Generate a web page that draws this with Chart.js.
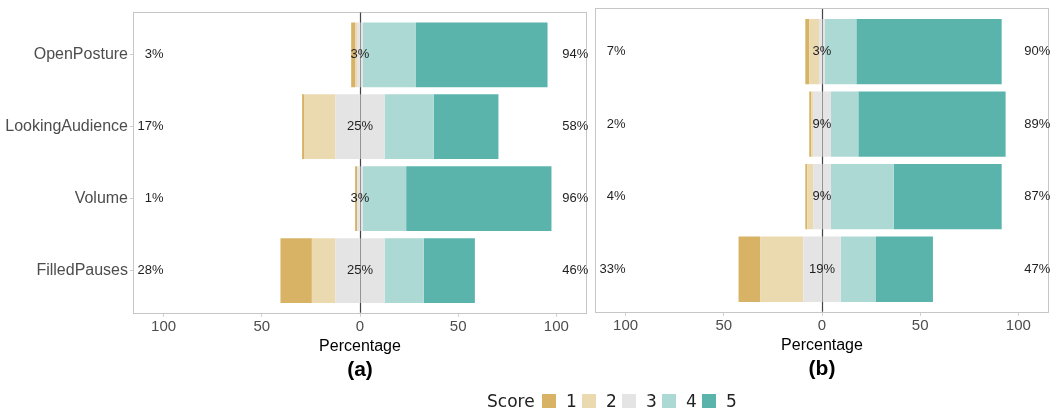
<!DOCTYPE html>
<html>
<head>
<meta charset="utf-8">
<script src="https://cdn.jsdelivr.net/npm/chart.js@4.4.0/dist/chart.umd.min.js"></script>
<style>
  html, body { margin: 0; padding: 0; background: #fff; }
  body { width: 1059px; height: 411px; position: relative; overflow: hidden; }
  canvas { position: absolute; top: 0; }
  #legend { position: absolute; left: 0; top: 0; width: 1059px; height: 411px;
            font-family: "DejaVu Sans", sans-serif; font-size: 17px; color: #222; }
  #legend .key { position: absolute; width: 14px; height: 14px; top: 394px; }
  #legend .lab { position: absolute; top: 391px; line-height: 20px; }
</style>
</head>
<body>
<canvas id="chartA" width="592" height="385" style="left:0px"></canvas>
<canvas id="chartB" width="467" height="384" style="left:592px"></canvas>
<div id="legend"></div>
<script>
// Likert items (rows, top to bottom)
const categories = ['OpenPosture', 'LookingAudience', 'Volume', 'FilledPauses'];
const scoreLabels = ['1', '2', '3', '4', '5'];
const xTickValues = [-100, -50, 0, 50, 100];

// Panel (a): percentage of answers per score
const a1 = [2, 1, 1, 16];
const a2 = [1, 16, 0, 12];
const a3 = [3, 25, 3, 25];
const a4 = [27, 25, 22, 20];
const a5 = [67, 33, 74, 26];

// Panel (b): percentage of answers per score
const b1 = [2, 1, 1, 11];
const b2 = [5, 1, 3, 22];
const b3 = [3, 9, 9, 19];
const b4 = [16, 14, 32, 18];
const b5 = [74, 75, 55, 29];

const scoreColors = ['#D8B365', '#EBD9AF', '#E4E4E4', '#ADD9D5', '#5AB4AC'];
const FONT = '"Liberation Sans", Arial, sans-serif';
Chart.defaults.font.family = FONT;

// Diverging stack: neutral split around zero, low scores to the left, high to the right
function buildDatasets(s1, s2, s3, s4, s5) {
  const pts = (arr, f) => arr.map((v, i) => ({ x: f(v), y: i }));
  return [
    { label: '3', data: pts(s3, v => -v / 2), backgroundColor: scoreColors[2] },
    { label: '2', data: pts(s2, v => -v), backgroundColor: scoreColors[1] },
    { label: '1', data: pts(s1, v => -v), backgroundColor: scoreColors[0] },
    { label: '3', data: pts(s3, v => v / 2), backgroundColor: scoreColors[2] },
    { label: '4', data: pts(s4, v => v), backgroundColor: scoreColors[3] },
    { label: '5', data: pts(s5, v => v), backgroundColor: scoreColors[4] }
  ].map(d => Object.assign(d, {
    stack: 's', barPercentage: 0.9, categoryPercentage: 1, borderWidth: 0
  }));
}

// Panel frame and zero reference line, drawn under the bars
const framePlugin = {
  id: 'frame',
  beforeDatasetsDraw(chart) {
    const { ctx, chartArea: ca, scales: { x } } = chart;
    ctx.save();
    ctx.strokeStyle = '#c6c6c6';
    ctx.lineWidth = 1;
    ctx.strokeRect(Math.round(ca.left) + 0.5, Math.round(ca.top) + 0.5,
                   Math.round(ca.right - ca.left) - 1, Math.round(ca.bottom - ca.top) - 1);
    const x0 = Math.round(x.getPixelForValue(0)) + 0.5;
    ctx.strokeStyle = '#444';
    ctx.lineWidth = 1.2;
    ctx.beginPath();
    ctx.moveTo(x0, ca.top + 1);
    ctx.lineTo(x0, ca.bottom - 1);
    ctx.stroke();
    ctx.restore();
  }
};

// Summary percentages: low (1+2), neutral (3), high (4+5)
function summaryPlugin(s1, s2, s3, s4, s5) {
  return {
    id: 'summary',
    afterDatasetsDraw(chart) {
      const { ctx, scales: { x, y } } = chart;
      ctx.save();
      ctx.font = '13px ' + FONT;
      ctx.fillStyle = '#1f1f1f';
      ctx.textBaseline = 'middle';
      categories.forEach((c, i) => {
        const yy = y.getPixelForValue(i);
        ctx.textAlign = 'right';
        ctx.fillText(Math.round(s1[i] + s2[i]) + '%', x.getPixelForValue(-100), yy);
        ctx.textAlign = 'center';
        ctx.fillText(Math.round(s3[i]) + '%', x.getPixelForValue(0), yy);
        ctx.textAlign = 'left';
        ctx.fillText(Math.round(s4[i] + s5[i]) + '%', x.getPixelForValue(103), yy);
      });
      ctx.restore();
    }
  };
}

function makeChart(id, series, title, showY, padding) {
  const yScale = {
    type: 'linear', reverse: true, min: -0.6, max: 3.6, stacked: true, offset: false,
    display: showY,
    afterBuildTicks: s => { s.ticks = categories.map((c, i) => ({ value: i })); },
    ticks: { callback: v => categories[v], color: '#4d4d4d', font: { size: 16 }, padding: 2, autoSkip: false },
    grid: { display: true, offset: false, drawOnChartArea: false, drawTicks: true, tickLength: 3, color: '#d0d0d0' },
    border: { display: false }
  };
  if (showY) yScale.afterFit = s => { s.width = 133; };
  return new Chart(document.getElementById(id), {
    type: 'bar',
    data: { datasets: buildDatasets(...series) },
    options: {
      indexAxis: 'y',
      responsive: false,
      animation: false,
      devicePixelRatio: 1,
      layout: { padding },
      scales: {
        x: {
          type: 'linear', min: -115.6, max: 115.6, stacked: true,
          afterBuildTicks: s => { s.ticks = xTickValues.map(v => ({ value: v })); },
          afterFit: s => { s.height = 42; },
          ticks: { callback: v => String(Math.abs(v)), color: '#4d4d4d', font: { size: 15 },
                   padding: 1, maxRotation: 0, autoSkip: false },
          grid: { display: true, drawOnChartArea: false, drawTicks: true, tickLength: 3, color: '#d0d0d0' },
          border: { display: false },
          title: { display: true, text: 'Percentage', color: '#000', font: { size: 16 },
                   padding: { top: 0, bottom: 0 } }
        },
        y: yScale
      },
      plugins: {
        legend: { display: false },
        tooltip: { enabled: false },
        title: { display: true, text: title, position: 'bottom', fullSize: false, color: '#000',
                 font: { size: 21, weight: 'bold' }, padding: { top: 2, bottom: 2 } }
      }
    },
    plugins: [framePlugin, summaryPlugin(...series)]
  });
}

makeChart('chartA', [a1, a2, a3, a4, a5], '(a)', true, { top: 9, right: 5, left: 0, bottom: 0 });
makeChart('chartB', [b1, b2, b3, b4, b5], '(b)', false, { top: 8, right: 10, left: 3, bottom: 0 });

// Shared score legend
const legend = document.getElementById('legend');
const title = document.createElement('span');
title.className = 'lab';
title.style.left = '487px';
title.textContent = 'Score';
legend.appendChild(title);
scoreLabels.forEach((s, i) => {
  const key = document.createElement('span');
  key.className = 'key';
  key.style.left = (542 + 40 * i) + 'px';
  key.style.background = scoreColors[i];
  legend.appendChild(key);
  const lab = document.createElement('span');
  lab.className = 'lab';
  lab.style.left = (566 + 40 * i) + 'px';
  lab.textContent = s;
  legend.appendChild(lab);
});
</script>
</body>
</html>
